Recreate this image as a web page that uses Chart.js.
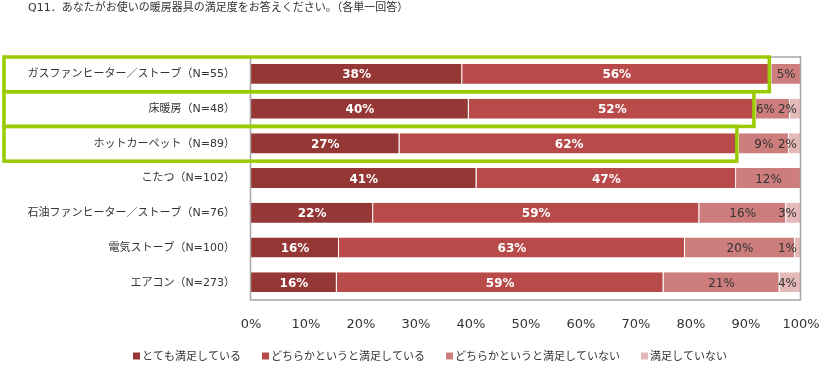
<!DOCTYPE html>
<html><head><meta charset="utf-8">
<script src="https://cdn.jsdelivr.net/npm/chart.js@4/dist/chart.umd.min.js"></script>
<style>html,body{margin:0;padding:0;background:#fff;}</style>
</head><body>
<canvas id="c" width="825" height="368"></canvas>
<script>
const titleText = 'Q11．あなたがお使いの暖房器具の満足度をお答えください。（各単一回答）';
const categories = ['ガスファンヒーター／ストーブ（N=55）','床暖房（N=48）','ホットカーペット（N=89）','こたつ（N=102）','石油ファンヒーター／ストーブ（N=76）','電気ストーブ（N=100）','エアコン（N=273）'];
const seriesNames = ['とても満足している','どちらかというと満足している','どちらかというと満足していない','満足していない'];
const verySatisfied        = [38.4, 39.6, 27.0, 41.0, 22.2, 16.0, 15.6];
const somewhatSatisfied    = [56.2, 52.2, 61.7, 47.2, 59.3, 62.9, 59.4];
const somewhatDissatisfied = [5.4, 6.2, 9.1, 11.8, 15.8, 20.0, 21.1];
const notSatisfied         = [0, 2.0, 2.2, 0, 2.7, 1.1, 3.9];
const highlightedRows = [0, 1, 2];
const xTickValues = [0, 10, 20, 30, 40, 50, 60, 70, 80, 90, 100];

const colors = ['#953735', '#B84A4A', '#CD7D7C', '#E4B9B8'];
const jp = "'Noto Sans CJK JP', 'Noto Sans', sans-serif";
const lat = "'DejaVu Sans', 'Noto Sans CJK JP', sans-serif";

const titlePlugin = {
  id: 'titleText',
  afterDraw(chart) {
    const ctx = chart.ctx;
    ctx.save();
    ctx.font = '11px ' + lat;
    ctx.fillStyle = '#333';
    ctx.textAlign = 'left';
    ctx.textBaseline = 'middle';
    ctx.fillText(titleText, 28, 8);
    ctx.restore();
  }
};

const framePlugin = {
  id: 'frame',
  afterDatasetsDraw(chart) {
    const ctx = chart.ctx, a = chart.chartArea;
    ctx.save();
    ctx.strokeStyle = '#A6A6A6';
    ctx.lineWidth = 1.5;
    ctx.strokeRect(a.left - 0.5, a.top, a.right - a.left, a.bottom - a.top);
    ctx.restore();
  }
};

const labelPlugin = {
  id: 'segLabels',
  afterDatasetsDraw(chart) {
    const ctx = chart.ctx, a = chart.chartArea;
    ctx.save();
    ctx.textAlign = 'center';
    ctx.textBaseline = 'middle';
    const n = chart.data.labels.length;
    for (let i = 0; i < n; i++) {
      const items = [];
      chart.data.datasets.forEach((ds, di) => {
        const v = ds.data[i];
        const r = Math.round(v);
        if (!v || r < 1) return;
        const el = chart.getDatasetMeta(di).data[i];
        const font = di < 2 ? 'bold 12px ' + lat : '12px ' + lat;
        ctx.font = font;
        const txt = r + '%';
        const w = ctx.measureText(txt).width;
        items.push({ txt, font, w, x: (el.x + el.base) / 2, y: el.y, color: di < 2 ? '#fff' : '#333' });
      });
      for (let k = items.length - 1; k >= 0; k--) {
        const it = items[k];
        const limit = k === items.length - 1 ? a.right - 4 : items[k + 1].x - items[k + 1].w / 2 - 3;
        if (it.x + it.w / 2 > limit) it.x = limit - it.w / 2;
      }
      items.forEach(it => {
        ctx.font = it.font;
        ctx.fillStyle = it.color;
        ctx.fillText(it.txt, it.x, it.y + 1);
      });
    }
    ctx.restore();
  }
};

const highlightPlugin = {
  id: 'highlight',
  afterDraw(chart) {
    const ctx = chart.ctx, xs = chart.scales.x, ys = chart.scales.y;
    const half = (ys.getPixelForValue(1) - ys.getPixelForValue(0)) / 2;
    ctx.save();
    ctx.strokeStyle = '#99CC00';
    ctx.lineWidth = 3.5;
    highlightedRows.forEach(i => {
      const cy = ys.getPixelForValue(i);
      const right = xs.getPixelForValue(verySatisfied[i] + somewhatSatisfied[i]) - 2;
      ctx.strokeRect(4, cy - half, right - 4, 2 * half);
    });
    ctx.restore();
  }
};

const legendPlugin = {
  id: 'customLegend',
  afterDraw(chart) {
    const ctx = chart.ctx;
    ctx.save();
    ctx.font = '11px ' + jp;
    const box = 7, gap = 2, spacing = 21, cy = 356, center = 430;
    const ws = chart.data.datasets.map(d => ctx.measureText(d.label).width);
    const total = ws.reduce((s, w) => s + w + box + gap, 0) + spacing * (ws.length - 1);
    let x = center - total / 2;
    ctx.textBaseline = 'middle';
    ctx.textAlign = 'left';
    chart.data.datasets.forEach((d, i) => {
      ctx.fillStyle = d.backgroundColor;
      ctx.fillRect(x, cy - box / 2, box, box);
      ctx.fillStyle = '#333';
      ctx.fillText(d.label, x + box + gap, cy);
      x += box + gap + ws[i] + spacing;
    });
    ctx.restore();
  }
};

const seriesData = [verySatisfied, somewhatSatisfied, somewhatDissatisfied, notSatisfied];

new Chart(document.getElementById('c'), {
  type: 'bar',
  data: {
    labels: categories,
    datasets: seriesData.map((d, i) => ({
      label: seriesNames[i],
      data: d,
      backgroundColor: colors[i],
      borderColor: 'rgba(255,255,255,0.35)',
      borderWidth: { top: 0, left: 0, right: 1, bottom: 1 },
      borderSkipped: false,
      barPercentage: 0.6,
      categoryPercentage: 1.0
    }))
  },
  options: {
    indexAxis: 'y',
    responsive: false,
    animation: false,
    devicePixelRatio: 1,
    layout: { padding: { top: 57, left: 0, right: 24, bottom: 0 } },
    plugins: { legend: { display: false }, tooltip: { enabled: false }, title: { display: false } },
    scales: {
      x: {
        stacked: true, min: 0, max: 100,
        afterBuildTicks(s) { s.ticks = xTickValues.map(v => ({ value: v })); },
        ticks: { callback: v => v + '%', font: { size: 13, family: lat }, color: '#333', padding: 17, maxRotation: 0, autoSkip: false },
        grid: { display: false, drawTicks: false },
        border: { display: false },
        afterFit(s) { s.height = 68; s.paddingRight = 0; s.paddingLeft = 0; }
      },
      y: {
        stacked: true,
        ticks: { font: { size: 11, family: lat }, color: '#333', padding: 16, autoSkip: false },
        grid: { display: false, drawTicks: false },
        border: { display: false },
        afterFit(s) { s.width = 251; }
      }
    }
  },
  plugins: [framePlugin, labelPlugin, highlightPlugin, titlePlugin, legendPlugin]
});
</script>
</body></html>
